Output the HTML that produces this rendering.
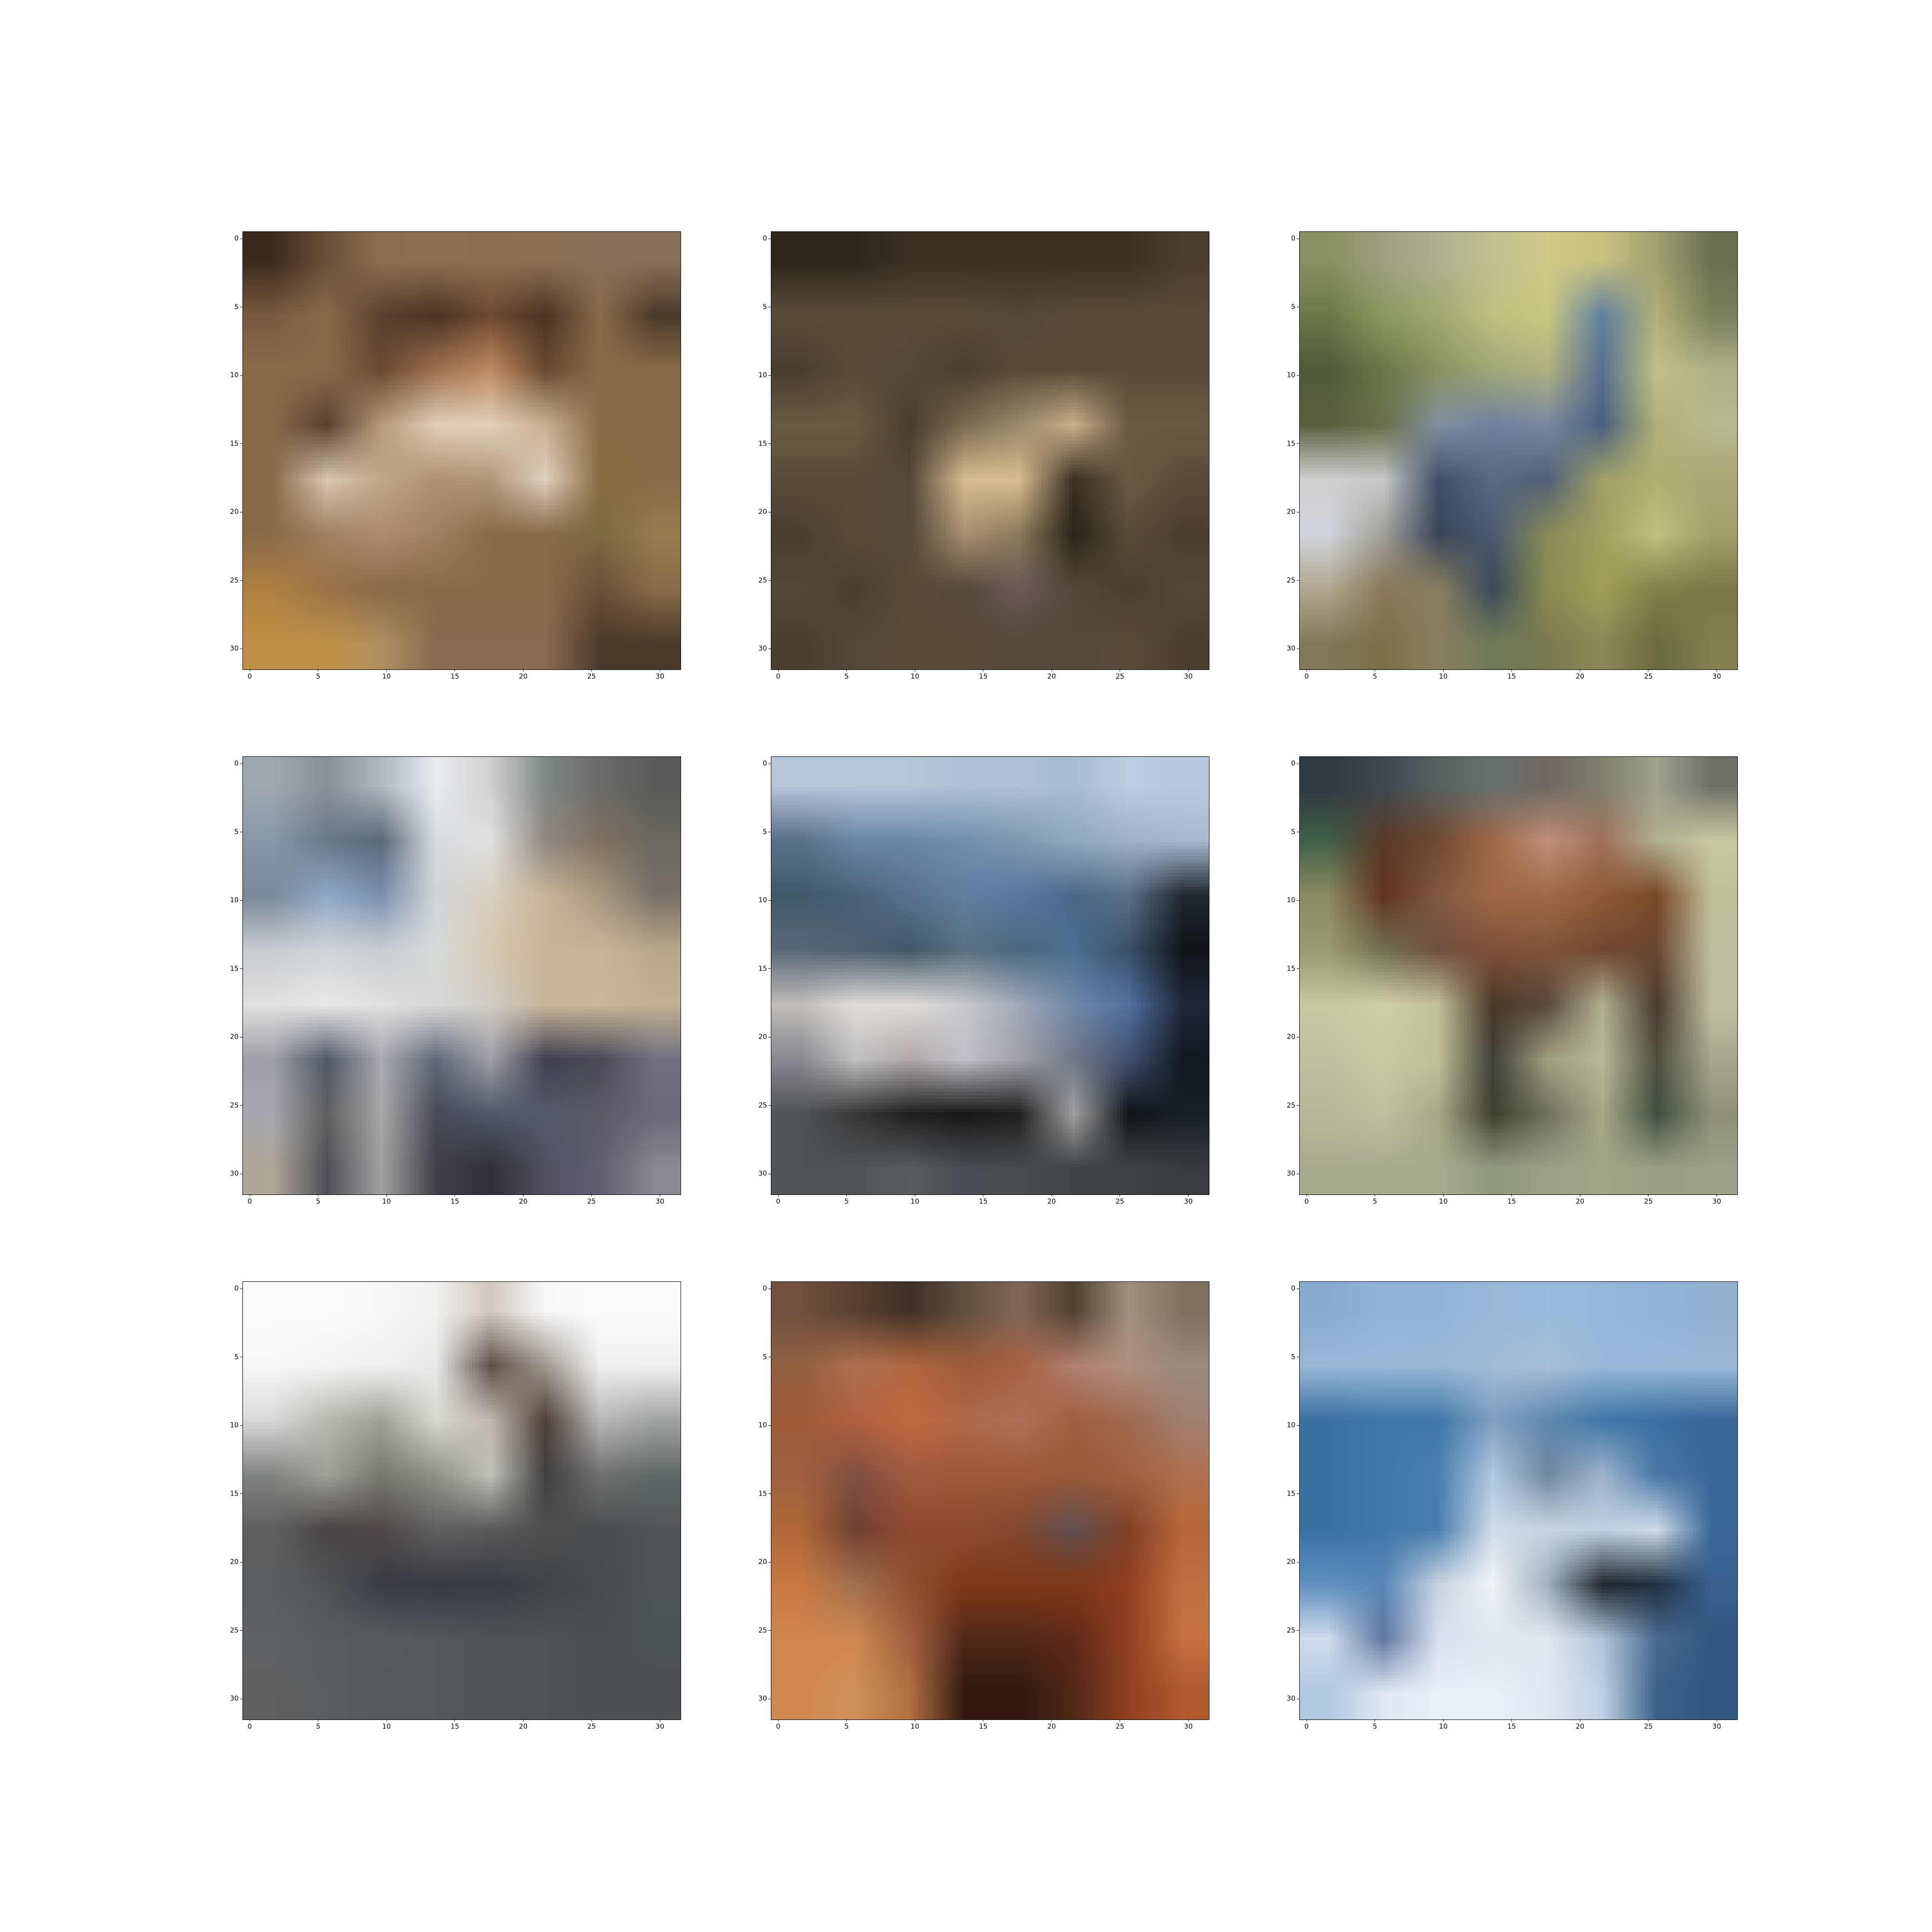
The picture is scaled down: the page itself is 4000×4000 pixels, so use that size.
<!DOCTYPE html>
<html><head><meta charset="utf-8">
<style>
html,body{margin:0;padding:0;background:#fff;}
#fig{position:relative;width:4000px;height:4000px;background:#fff;overflow:hidden;font-family:"DejaVu Sans","Liberation Sans",sans-serif;}
.ax{position:absolute;width:906px;height:906px;}
.ax canvas{position:absolute;left:0;top:0;width:906px;height:906px;image-rendering:auto;}
.frame{position:absolute;left:-1px;top:-1px;width:906px;height:906px;border:1.1px solid #000;}
.tk{position:absolute;background:#000;}
.tl{position:absolute;font-size:14px;color:#000;line-height:14px;white-space:nowrap;}
</style></head>
<body>
<div id="fig"></div>
<script>
const ticks=[0,5,10,15,20,25,30];
const tickLabels=["0","5","10","15","20","25","30"];
const img1=[["#3a2a1e","#6a5038","#8e6e4e","#907050","#8e6e50","#8e7052","#8a7058","#8a7058"],["#7a5a40","#8a6a48","#5a4030","#4a3424","#704a30","#4a3424","#8a6a48","#4a3a2a"],["#8a6a48","#8a6a4a","#6a4a30","#a07050","#c08a60","#6a4a30","#8a6a48","#8a6a48"],["#8a6a48","#5a4030","#b89a78","#e0d0b8","#e0d0b8","#c8b090","#8a6a48","#8a6a48"],["#8a6a48","#d8c8b0","#c0a888","#b09070","#b09878","#e0d0c0","#8a6a40","#8a6a48"],["#8a6a48","#a08060","#b08a70","#a08060","#8a6a48","#8a6a48","#7a6a40","#9a7a50"],["#b08040","#9a7448","#8a6a48","#8a6a48","#8a6a48","#8a6a48","#6a5038","#8a6a48"],["#c09048","#c09048","#b09060","#8a6a50","#8a6a50","#8a6a50","#4a3a2a","#4a3a2a"]];
const img2=[["#2e261c","#2e261c","#3a3024","#3a3024","#3a3024","#3a3024","#3a3024","#4a3e30"],["#5a4c3a","#5a4c3a","#5a4c3a","#5a4c3a","#54483a","#5a4c3a","#5a4c3a","#5a4c3a"],["#4a3e30","#5a4c3a","#54483a","#4a3e30","#5a4c3a","#5a4c3a","#5a4c3a","#5a4c3a"],["#6a5a44","#6a5a44","#4a3e30","#7a6a50","#9a8a6a","#c8b088","#6a5a44","#6a5a44"],["#5a4c3a","#5a4c3a","#54483a","#d8bc90","#d8bc90","#3a3024","#6a5a44","#5a4c3a"],["#4a3e30","#5a4c3a","#54483a","#a89070","#8a7a5a","#2a2418","#5a4c3a","#4a3e30"],["#54483a","#4a3e30","#5a4c3a","#54483a","#6a5a58","#54483a","#4a3e30","#54483a"],["#4a3e30","#54483a","#5a4c3a","#5a4c3a","#54483a","#54483a","#5a4c3a","#4a3e30"]];
const img3=[["#8a9060","#a0a080","#b0b090","#c0c090","#d0c888","#c8c080","#a0a070","#6a7050"],["#6a7848","#8a9860","#a0a870","#c0c080","#c8c880","#6080a0","#b0b078","#7a8058"],["#505a38","#6a7848","#8a9060","#a0a878","#b0b080","#5a7090","#c0c088","#b0b088"],["#5a6040","#6a7048","#8090a0","#7080a0","#7888a0","#4a6080","#b0b078","#b8b890"],["#d0d0d0","#c8c8c8","#405068","#5a6a80","#506078","#a0a068","#b0b070","#a8a878"],["#d0d4dc","#a0a098","#3a4658","#4a5a70","#8a8a58","#a0a060","#c0c080","#a0a068"],["#b0a890","#8a7858","#8a8060","#3a4a5a","#8a8a50","#a0a058","#808048","#7a7a48"],["#807858","#7a7048","#8a8060","#707a58","#7a7a50","#8a8a58","#6a6a40","#808050"]];
const img4=[["#a0a8b0","#8a9098","#b0b8c0","#e8ecf0","#d0d0d0","#808888","#6a6a68","#5a5a58"],["#8898a8","#6a7888","#5a6878","#d8dce0","#e0e0e0","#908880","#807060","#6a6860"],["#7a8898","#90a8c8","#7a90b0","#d0d4d8","#d8d0c0","#c8b498","#a89880","#787068"],["#c8ccd0","#d0d4d8","#c8ccd0","#d8dcdc","#d8c8b0","#c8b498","#c8b498","#b8a888"],["#e0e0e0","#e8e8e8","#e0e0e0","#d8d8d8","#d0ccc4","#c8b498","#c8b898","#c0b090"],["#a0a0a8","#505868","#a8a8b0","#606878","#a0a0a8","#404050","#4a4a58","#707080"],["#a8a8b0","#606060","#a8a8a8","#484a58","#505868","#555a68","#5a5a68","#6a6a78"],["#b0a898","#505058","#a0a0a0","#404048","#303038","#505060","#606070","#8a8890"]];
const img5=[["#b8c4d8","#b8c4d8","#b8c4d8","#b0c0d4","#b0c0d8","#a8bcd4","#c0cce0","#b8c8e0"],["#5a7088","#6a88a8","#6a88a8","#7090b0","#8098b0","#90a8c0","#a0b0c8","#a8b8d0"],["#405868","#4a6078","#5a7090","#6080a0","#5878a0","#4a6888","#5a7088","#202830"],["#5a6878","#506070","#405868","#5a7080","#4a6880","#4a7090","#3a5068","#101418"],["#c0bcb8","#e0dcd8","#e0dcd8","#c8c8cc","#a0a8b8","#7088a8","#5070a0","#202838"],["#888890","#c0c0c0","#b0a8a8","#c0c0c8","#a0a0a8","#707888","#405070","#101820"],["#505458","#383838","#202020","#181818","#202020","#a0a0a0","#101418","#1a2028"],["#505458","#505458","#585c60","#4a4e54","#484c50","#404448","#404448","#383c40"]];
const img6=[["#303840","#404850","#586060","#687070","#706860","#808070","#a0a090","#707068"],["#406048","#5a3a28","#704a30","#a06848","#c0907a","#a07058","#b0b090","#c8c8a0"],["#8a8a60","#603420","#805a40","#a06848","#a06a48","#905a38","#7a4828","#c0c098"],["#9a9a70","#707050","#705040","#805038","#805438","#704830","#6a4830","#c0c0a0"],["#c8c8a0","#d0d0a8","#c0c098","#4a3828","#5a4a40","#b0b090","#4a3a30","#c0c0a0"],["#c0c0a0","#c8c8a0","#c0c098","#404038","#a0a080","#b8b898","#505040","#a8a890"],["#b8b898","#c0c0a0","#a8a888","#404030","#707060","#a8a888","#405040","#909078"],["#a8aa90","#a8aa90","#a8ac90","#909880","#9ca088","#a0a488","#9a9e84","#9ca088"]];
const img7=[["#fcfcfc","#fcfcfc","#f8f8f8","#f0f0ee","#d0c8c0","#f8f8f8","#fcfcfc","#fcfcfc"],["#f8f8f8","#f4f4f4","#f0f0f0","#e8e8e8","#605048","#a09890","#f0f0f0","#f0f0f0"],["#d8d8d8","#b8b8b0","#a0a098","#d8d8d0","#c0b8b0","#504038","#b8b8b8","#a0a4a0"],["#808480","#a0a098","#787870","#909088","#c0c0b8","#404040","#707070","#606868"],["#606060","#4a4444","#504848","#606060","#5a5a5a","#505050","#4a4e50","#505658"],["#5a5e60","#505458","#3a3c44","#383a42","#383c44","#404448","#484c50","#505658"],["#606468","#585c60","#585c60","#54585c","#505458","#505458","#4c5054","#4c5456"],["#606060","#5a5e60","#55595c","#54585c","#505458","#505458","#4c5054","#4c5054"]];
const img8=[["#705040","#584030","#403028","#605040","#806858","#504030","#a09080","#807060"],["#906040","#b07050","#b06840","#a05a38","#a86040","#b08070","#b09080","#9a8a80"],["#a05a38","#b06040","#c06a40","#b06848","#b07058","#a06040","#a06a50","#a08070"],["#a06040","#805040","#a05a40","#a05838","#a05838","#985838","#a06040","#b07050"],["#b06838","#704030","#904830","#904a30","#804830","#605050","#804028","#b86838"],["#c87840","#a07050","#905030","#803818","#803818","#803818","#904020","#c07040"],["#d08850","#d08850","#a06040","#502818","#502818","#602818","#904020","#c87040"],["#d08850","#d09058","#b07040","#301810","#301810","#502818","#904020","#b05830"]];
const img9=[["#88acd0","#90b4d8","#90b4d8","#98b8d8","#98bcdc","#94b8d8","#90b4d8","#90b0d0"],["#9ab8d8","#98b8d8","#98b8d4","#a0bcd8","#a8c0d8","#98b8d8","#98b8d8","#98b8d8"],["#3a70a0","#4078a8","#4078a8","#80a0c0","#6088b0","#4078a8","#3a70a0","#3a6898"],["#3a70a0","#4078a8","#4a80b0","#b0c8e0","#7088a0","#a0b4cc","#4a78a8","#3a6898"],["#3a70a0","#4078a8","#4a80b0","#d0dce8","#c8d4e0","#c0d0e0","#d0dce8","#3a6898"],["#6090c0","#5888b8","#c8d4e0","#f0f4f8","#a0b0c0","#202830","#203040","#3a6090"],["#d0dcec","#6078a0","#d8e0f0","#e0e8f0","#e0e8f0","#b0c4d8","#4a6a90","#305880"],["#b0c8e0","#e0e8f4","#e8f0f8","#e8f0f8","#e0e8f4","#c0d0e4","#3a6088","#305880"]];
const images=[img1,img2,img3,img4,img5,img6,img7,img8,img9];

const AX=905.8, N=32;
const lefts=[503,1597,2691], tops=[480,1567,2654];
const fig=document.getElementById('fig');
function sx(v){return (v+0.5)*AX/N;}
images.forEach((grid,i)=>{
  const r=Math.floor(i/3), c=i%3;
  const ax=document.createElement('div');
  ax.className='ax';
  
  
  ax.style.left=lefts[c]+'px'; ax.style.top=tops[r]+'px';
  const cv=document.createElement('canvas');
  
  
  const n=grid.length; cv.width=n; cv.height=n;
  const ctx=cv.getContext('2d');
  grid.forEach((row,y)=>row.forEach((col,x)=>{ctx.fillStyle=col;ctx.fillRect(x,y,1,1);}));
  ax.appendChild(cv);
  const fr=document.createElement('div');fr.className='frame';
  
  
  ax.appendChild(fr);
  ticks.forEach((t,k)=>{
    const p=sx(t);
    const tx=document.createElement('div');tx.className='tk';
    
    
    tx.style.left=(p-0.5)+'px';tx.style.top='905px';tx.style.width='1.1px';tx.style.height='5px';
    ax.appendChild(tx);
    const lx=document.createElement('div');lx.className='tl';
    
    
    lx.textContent=tickLabels[k];
    lx.style.left=p+'px';lx.style.top='914px';lx.style.transform='translateX(-50%)';
    ax.appendChild(lx);
    const ty=document.createElement('div');ty.className='tk';
    
    
    ty.style.left='-6px';ty.style.top=(p-0.5)+'px';ty.style.width='5px';ty.style.height='1.1px';
    ax.appendChild(ty);
    const ly=document.createElement('div');ly.className='tl';
    
    
    ly.textContent=tickLabels[k];
    ly.style.right='915px';ly.style.top=(p-7)+'px';
    ax.appendChild(ly);
  });
  fig.appendChild(ax);
});
</script>
</body></html>
